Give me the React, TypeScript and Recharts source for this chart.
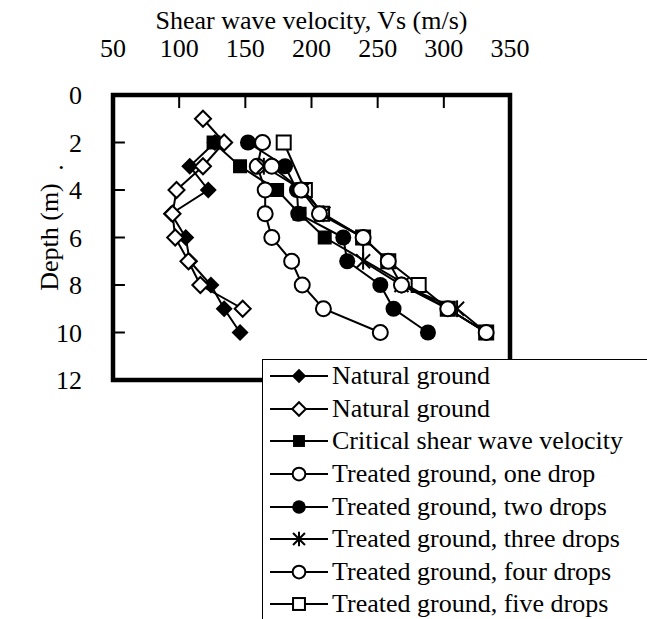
import React from 'react';
import { ScatterChart, Scatter, XAxis, YAxis, ReferenceArea, ReferenceLine, Legend } from 'recharts';

const FONT = '"Liberation Serif", "Times New Roman", serif';

const velocityTicks = [50, 100, 150, 200, 250, 300, 350];
const depthTicks = [0, 2, 4, 6, 8, 10, 12];
const innerVelocityTicks = [100, 150, 200, 250, 300];
const innerDepthTicks = [2, 4, 6, 8, 10];

// depth (m) and shear wave velocity (m/s)
const naturalFilledDepth = [2, 3, 4, 5, 6, 7, 8, 9, 10];
const naturalFilledVs = [127, 108, 122, 94, 105, 108, 124, 134, 146];

const naturalHollowDepth = [1, 2, 3, 4, 5, 6, 7, 8, 9];
const naturalHollowVs = [118, 134, 118, 98, 95, 97, 107, 116, 148];

const criticalDepth = [2, 3, 4, 5, 6, 9, 10];
const criticalVs = [126, 146, 174, 191, 210, 303, 332];

const oneDropDepth = [2, 3, 4, 5, 6, 7, 8, 9, 10];
const oneDropVs = [163, 159, 165, 165, 170, 185, 193, 209, 252];

const twoDropsDepth = [2, 3, 4, 5, 6, 7, 8, 9, 10];
const twoDropsVs = [152, 180, 189, 190, 224, 227, 252, 262, 288];

const threeDropsDepth = [3, 4, 5, 6, 7, 8, 9, 10];
const threeDropsVs = [164, 193, 209, 239, 239, 268, 310, 332];

const fourDropsDepth = [3, 4, 5, 6, 7, 8, 9, 10];
const fourDropsVs = [170, 192, 206, 239, 258, 268, 303, 332];

const fiveDropsDepth = [2, 4, 5, 6, 7, 8, 9, 10];
const fiveDropsVs = [179, 195, 208, 239, 258, 281, 303, 332];

const toPoints = (depths: number[], vs: number[]) => depths.map((d, i) => ({ depth: d, vs: vs[i] }));

type MarkerKind = 'diamondFilled' | 'diamondHollow' | 'squareFilled' | 'circleHollow' | 'circleFilled' | 'star' | 'squareHollow';

const Marker = ({ kind, cx, cy, scale = 1 }: { kind: MarkerKind; cx: number; cy: number; scale?: number }) => {
  const s = scale;
  switch (kind) {
    case 'diamondFilled': {
      const r = 8.5 * s;
      return <polygon points={`${cx},${cy - r} ${cx + r},${cy} ${cx},${cy + r} ${cx - r},${cy}`} fill="#000" />;
    }
    case 'diamondHollow': {
      const r = 8 * s;
      return <polygon points={`${cx},${cy - r} ${cx + r},${cy} ${cx},${cy + r} ${cx - r},${cy}`} fill="#fff" stroke="#000" strokeWidth={2} />;
    }
    case 'squareFilled': {
      const h = 7 * s;
      return <rect x={cx - h} y={cy - h} width={2 * h} height={2 * h} fill="#000" />;
    }
    case 'squareHollow': {
      const h = 7 * s;
      return <rect x={cx - h} y={cy - h} width={2 * h} height={2 * h} fill="#fff" stroke="#000" strokeWidth={2} />;
    }
    case 'circleFilled':
      return <circle cx={cx} cy={cy} r={8 * s} fill="#000" />;
    case 'circleHollow':
      return <circle cx={cx} cy={cy} r={7.5 * s} fill="#fff" stroke="#000" strokeWidth={2} />;
    case 'star': {
      const r = 7 * s;
      return (
        <g stroke="#000" strokeWidth={2}>
          <line x1={cx - r} y1={cy - r} x2={cx + r} y2={cy + r} />
          <line x1={cx - r} y1={cy + r} x2={cx + r} y2={cy - r} />
          <line x1={cx} y1={cy - r * 1.2} x2={cx} y2={cy + r * 1.2} />
        </g>
      );
    }
    default:
      return null;
  }
};

const series: { name: string; kind: MarkerKind; data: { depth: number; vs: number }[] }[] = [
  { name: 'Natural ground', kind: 'diamondFilled', data: toPoints(naturalFilledDepth, naturalFilledVs) },
  { name: 'Natural ground ', kind: 'diamondHollow', data: toPoints(naturalHollowDepth, naturalHollowVs) },
  { name: 'Critical shear wave velocity', kind: 'squareFilled', data: toPoints(criticalDepth, criticalVs) },
  { name: 'Treated ground, one drop', kind: 'circleHollow', data: toPoints(oneDropDepth, oneDropVs) },
  { name: 'Treated ground, two drops', kind: 'circleFilled', data: toPoints(twoDropsDepth, twoDropsVs) },
  { name: 'Treated ground, three drops', kind: 'star', data: toPoints(threeDropsDepth, threeDropsVs) },
  { name: 'Treated ground, four drops', kind: 'circleHollow', data: toPoints(fourDropsDepth, fourDropsVs) },
  { name: 'Treated ground, five drops', kind: 'squareHollow', data: toPoints(fiveDropsDepth, fiveDropsVs) },
];

// paint order on the plot (five drops sits under the critical squares)
const drawOrder = [0, 1, 7, 2, 3, 4, 5, 6];

const VelocityTick = (props: any) => {
  const { x, y, payload } = props;
  return (
    <text x={x} y={y} textAnchor="middle" fontSize={26} fontFamily={FONT} fill="#000">{payload.value}</text>
  );
};

const DepthTick = (props: any) => {
  const { x, y, payload } = props;
  return (
    <text x={x} y={y} dy="0.35em" textAnchor="end" fontSize={26} fontFamily={FONT} fill="#000">{payload.value}</text>
  );
};

const LegendBox = () => (
  <div style={{ border: '1px solid #000', background: '#fff', paddingLeft: 7, width: 420, height: 300, boxSizing: 'border-box' }}>
    {series.map((s, i) => (
      <div key={i} style={{ height: 32.6, display: 'flex', alignItems: 'center' }}>
        <svg width={62} height={30} style={{ flex: 'none' }}>
          <line x1={0} x2={58} y1={15} y2={15} stroke="#000" strokeWidth={2} />
          <Marker kind={s.kind} cx={29} cy={15} scale={0.85} />
        </svg>
        <span style={{ fontFamily: FONT, fontSize: 26, lineHeight: 1, whiteSpace: 'nowrap', color: '#000' }}>{s.name.trim()}</span>
      </div>
    ))}
  </div>
);

export default function App() {
  return (
    <div style={{ position: 'absolute', left: 0, top: 0, width: 647, height: 619, overflow: 'hidden', background: '#fff' }}>
      <ScatterChart width={647} height={619} margin={{ top: 55, left: 43, right: 137, bottom: 239 }}>
        <XAxis
          type="number"
          dataKey="vs"
          orientation="top"
          domain={[50, 350]}
          ticks={velocityTicks}
          height={40}
          axisLine={false}
          tickLine={false}
          tickSize={0}
          tickMargin={38}
          tick={<VelocityTick />}
          allowDataOverflow
          label={{ value: 'Shear wave velocity, Vs (m/s)', position: 'top', offset: 26, style: { fontFamily: FONT, fontSize: 26, fill: '#000' } }}
        />
        <YAxis
          type="number"
          dataKey="depth"
          reversed
          domain={[0, 12]}
          ticks={depthTicks}
          width={70}
          axisLine={false}
          tickLine={false}
          tickSize={0}
          tickMargin={31}
          tick={<DepthTick />}
          allowDataOverflow
        />
        {innerVelocityTicks.map((v) => (
          <ReferenceLine key={`xt${v}`} segment={[{ x: v, y: 0 }, { x: v, y: 0.55 }]} stroke="#000" strokeWidth={2} ifOverflow="visible" />
        ))}
        {innerDepthTicks.map((d) => (
          <ReferenceLine key={`yt${d}`} segment={[{ x: 50, y: d }, { x: 59, y: d }]} stroke="#000" strokeWidth={2} ifOverflow="visible" />
        ))}
        {drawOrder.map((idx) => {
          const s = series[idx];
          return (
            <Scatter
              key={idx}
              name={s.name}
              data={s.data}
              line={{ stroke: '#000', strokeWidth: 2 }}
              lineType="joint"
              isAnimationActive={false}
              shape={(p: any) => <Marker kind={s.kind} cx={p.cx} cy={p.cy} />}
            />
          );
        })}
        <ReferenceArea x1={50} x2={350} y1={0} y2={12} fill="none" stroke="#000" strokeWidth={4.5} ifOverflow="visible" />
        <Legend
          layout="vertical"
          align="center"
          verticalAlign="middle"
          content={<LegendBox />}
          wrapperStyle={{ left: 262, top: 359, width: 420, zIndex: 5 }}
        />
      </ScatterChart>
      <div
        style={{
          position: 'absolute', left: -50, top: 222, width: 200, lineHeight: '30px', textAlign: 'center',
          fontFamily: FONT, fontSize: 26, transform: 'rotate(-90deg)', color: '#000',
        }}
      >
        Depth (m)
      </div>
      <div style={{ position: 'absolute', left: 58, top: 146, fontFamily: FONT, fontSize: 26, lineHeight: '30px', color: '#000' }}>.</div>
    </div>
  );
}
